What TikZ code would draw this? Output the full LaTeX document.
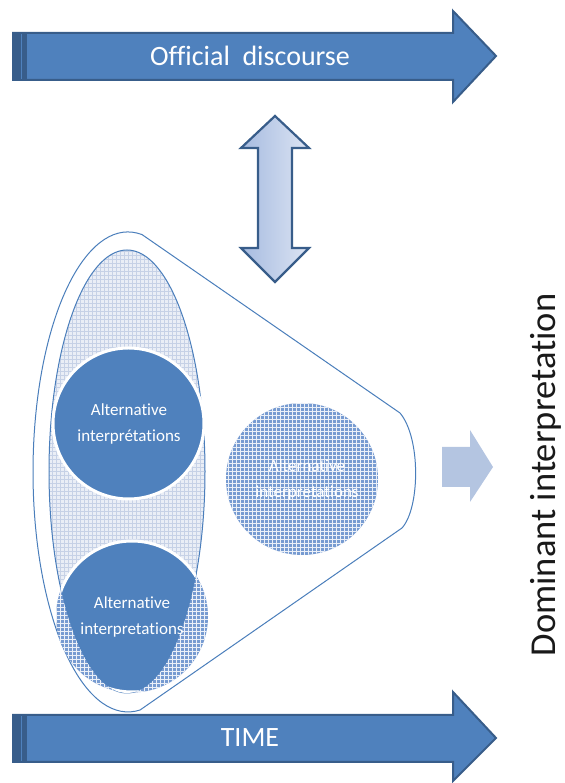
\documentclass[tikz,border=0pt]{standalone}
\usepackage{fontspec}
\setmainfont{Carlito}[Ligatures=NoCommon]
\definecolor{accblue}{HTML}{4F81BD}
\definecolor{hatchbase}{HTML}{779BD1}
\definecolor{darkblue}{HTML}{385D8A}
\definecolor{lineblue}{HTML}{4A7EBB}
\definecolor{lightarrow}{HTML}{B4C5E1}
\definecolor{gradL}{HTML}{A6BBE0}
\definecolor{gradR}{HTML}{DCE4F3}
\definecolor{ellbase}{HTML}{EAEEF6}
\definecolor{ellgrid}{HTML}{C6D1E6}
\tikzset{
  bigarrow/.style={fill=accblue, draw=darkblue, line width=2pt, line join=miter},
  bandstyle/.style={fill=darkblue},
  arrowtext/.style={text=white, font=\fontsize{28}{34}\selectfont, inner sep=0pt},
  circtext/.style={text=white, align=center, font=\fontsize{17}{26}\selectfont, inner sep=0pt},
  outline/.style={draw=lineblue, line width=1pt},
  whitegrid/.style={draw=white!85!hatchbase, line width=0.8pt, step=4pt},
  lightgrid/.style={draw=ellgrid, line width=0.8pt, step=4pt},
}
\begin{document}
\begin{tikzpicture}[x=1pt,y=1pt]
\useasboundingbox (0,0) rectangle (564,783);
% top arrow
\draw[bigarrow] (13,750) -- (453,750) -- (453,772) -- (496,727) -- (453,681) -- (453,703) -- (13,703) -- cycle;
\fill[bandstyle] (12,749) rectangle (27,704);
\draw[accblue, line width=1pt] (21.5,749) -- (21.5,704);
\node[arrowtext] (official) at (250,727) {Official\ \ discourse};
% bottom arrow
\draw[bigarrow] (13,68) -- (453,68) -- (453,91) -- (496,45) -- (453,2) -- (453,21) -- (13,21) -- cycle;
\fill[bandstyle] (12,67) rectangle (27,22);
\draw[accblue, line width=1pt] (21.5,67) -- (21.5,22);
\node[arrowtext] (time) at (250,45) {TIME};
% double arrow
\draw[left color=gradL, right color=gradR, draw=darkblue, line width=2.2pt, line join=miter]
  (275,667) -- (309,635) -- (292,635) -- (292,535) -- (309,535) -- (275,501)
  -- (241,535) -- (258,535) -- (258,635) -- (241,635) -- cycle;
% outer funnel shape
\draw[outline, fill=white] (142.04,548.4) arc[start angle=81.5, end angle=277.3, x radius=95, y radius=240]
  -- (402,255) .. controls (420,275) and (421,345) .. (400,370) -- cycle;
% inner hatched ellipse
\begin{scope}
  \clip (127,311.5) ellipse[x radius=78, y radius=221.5];
  \fill[ellbase] (48,89) rectangle (206,534);
  \draw[lightgrid] (48,88) grid (208,536);
\end{scope}
\draw[outline] (127,311.5) ellipse[x radius=78, y radius=221.5];
% top circle
\fill[accblue] (128.5,359.5) circle[radius=76];
\draw[white, line width=3pt] (128.5,359.5) circle[radius=75.5];
\node[circtext] (alt1) at (129,359) {Alternative\\interprétations};
% bottom circle
\begin{scope}
  \clip (132,166.5) circle[radius=76];
  \fill[hatchbase] (54,88) rectangle (210,244);
  \draw[whitegrid] (52,88) grid (212,244);
\end{scope}
\begin{scope}
  \clip (127,311.5) ellipse[x radius=78, y radius=221.5];
  \fill[accblue] (132,166.5) circle[radius=76];
  \draw[white, line width=3pt] (132,166.5) circle[radius=75.5];
\end{scope}
\node[circtext] (alt2) at (132,166) {Alternative\\interpretations};
% middle circle
\begin{scope}
  \clip (302,304) circle[radius=76];
  \fill[hatchbase] (224,226) rectangle (380,382);
  \draw[whitegrid] (224,224) grid (380,384);
\end{scope}
\node[circtext] (alt3) at (307,303) {Alternative\\interpretations};
% small arrow
\fill[lightarrow] (442,336) -- (470,336) -- (470,353) -- (493,316) -- (470,281) -- (470,296) -- (442,296) -- cycle;
% dominant interpretation
\node[rotate=90, font=\fontsize{36.5}{40}\selectfont, inner sep=0pt, text=black!90] (dominant) at (545.5,308) {Dominant interpretation};
\end{tikzpicture}
\end{document}
